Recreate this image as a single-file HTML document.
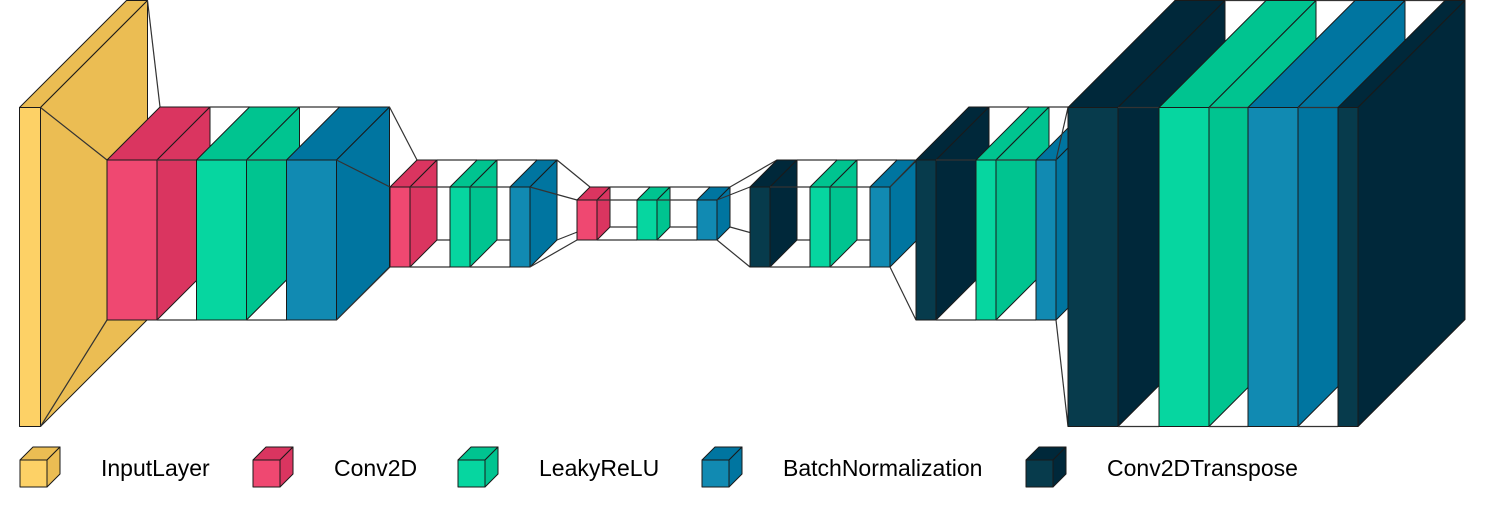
<!DOCTYPE html>
<html><head><meta charset="utf-8">
<style>
html,body{margin:0;padding:0;background:#fff;}
svg{display:block;}
text{font-family:"Liberation Sans",Arial,sans-serif;font-size:23px;fill:#000;}
</style></head>
<body>
<svg id="chart" width="1487" height="507" viewBox="0 0 1487 507" xmlns="http://www.w3.org/2000/svg">
<g id="layers"></g>
<g id="legend"></g>
</svg>
<script>
// layer data
const layerTypes = ["InputLayer","Conv2D","LeakyReLU","BatchNormalization","Conv2D","LeakyReLU","BatchNormalization","Conv2D","LeakyReLU","BatchNormalization","Conv2DTranspose","LeakyReLU","BatchNormalization","Conv2DTranspose","LeakyReLU","BatchNormalization","Conv2DTranspose","LeakyReLU","BatchNormalization","Conv2DTranspose"];
const layerWidths = [21,50,50,50,20,20,20,20,20,20,20,20,20,20,20,20,50,50,50,20];
const layerHeights = [319,160,160,160,80,80,80,40,40,40,80,80,80,160,160,160,319,319,319,319];
const layerDepths = [107,53,53,53,27,27,27,13,13,13,27,27,27,53,53,53,107,107,107,107];
const layerLeft = [19.5,107,196.5,286.5,390,450,510,577,637,697,750,810,870,916,976,1036,1068,1159,1248,1338];
const legendTypes = ["InputLayer","Conv2D","LeakyReLU","BatchNormalization","Conv2DTranspose"];
const legendX = [20,253,458,702,1026];

const front = {InputLayer:"#FDD166",Conv2D:"#EF4871",LeakyReLU:"#06D6A0",BatchNormalization:"#118AB2",Conv2DTranspose:"#073B4C"};
const side = {InputLayer:"#EBBD53",Conv2D:"#DA3560",LeakyReLU:"#00C490",BatchNormalization:"#0075A0",Conv2DTranspose:"#00283A"};
const NS = "http://www.w3.org/2000/svg";
const CY = 213.5;
const layersG = document.getElementById("layers");
const legendG = document.getElementById("legend");

function poly(parent, pts, fill, name) {
  const p = document.createElementNS(NS, "polygon");
  p.setAttribute("points", pts.map(q => q[0] + "," + q[1]).join(" "));
  p.setAttribute("fill", fill);
  p.setAttribute("stroke", "#1a1a1a");
  p.setAttribute("stroke-width", "1");
  p.setAttribute("stroke-linejoin", "round");
  
  
  parent.appendChild(p);
}
function line(parent, a, b) {
  const l = document.createElementNS(NS, "line");
  l.setAttribute("x1", a[0]); l.setAttribute("y1", a[1]);
  l.setAttribute("x2", b[0]); l.setAttribute("y2", b[1]);
  l.setAttribute("stroke", "#333");
  l.setAttribute("stroke-width", "1.2");
  
  
  parent.appendChild(l);
}
function box(parent, x1, y1, w, h, d, t, name) {
  const g = document.createElementNS(NS, "g");
  
  
  parent.appendChild(g);
  const x2 = x1 + w, y2 = y1 + h;
  poly(g, [[x1,y1],[x2,y1],[x2,y2],[x1,y2]], front[t], 'front-face');
  poly(g, [[x1,y1],[x1+d,y1-d],[x2+d,y1-d],[x2,y1]], side[t], 'top-face');
  poly(g, [[x2,y1],[x2+d,y1-d],[x2+d,y2-d],[x2,y2]], side[t], 'side-face');
}
function geom(i) {
  const d = layerDepths[i], h = layerHeights[i], w = layerWidths[i];
  const x1 = layerLeft[i];
  const y1 = CY - h / 2 + d / 2;
  return {x1, x2: x1 + w, y1, y2: y1 + h, d, w, h};
}
for (let i = 0; i < layerTypes.length; i++) {
  const g = geom(i);
  if (i > 0) {
    const p = geom(i - 1);
    line(layersG, [p.x2, p.y1], [g.x1, g.y1]);
    line(layersG, [p.x2 + p.d, p.y1 - p.d], [g.x1 + g.d, g.y1 - g.d]);
    line(layersG, [p.x2, p.y2], [g.x1, g.y2]);
    line(layersG, [p.x2 + p.d, p.y2 - p.d], [g.x1 + g.d, g.y2 - g.d]);
  }
  box(layersG, g.x1, g.y1, g.w, g.h, g.d, layerTypes[i], 'layer-' + (i + 1) + '-' + layerTypes[i].toLowerCase());
}
for (let i = 0; i < legendTypes.length; i++) {
  const t = legendTypes[i];
  const entry = document.createElementNS(NS, "g");
  
  
  legendG.appendChild(entry);
  box(entry, legendX[i], 460, 27, 27, 13, t, 'legend-swatch');
  const tx = document.createElementNS(NS, "text");
  tx.setAttribute("x", legendX[i] + 81);
  tx.setAttribute("y", 476);
  tx.textContent = t;
  
  
  entry.appendChild(tx);
}
</script>
</body></html>
